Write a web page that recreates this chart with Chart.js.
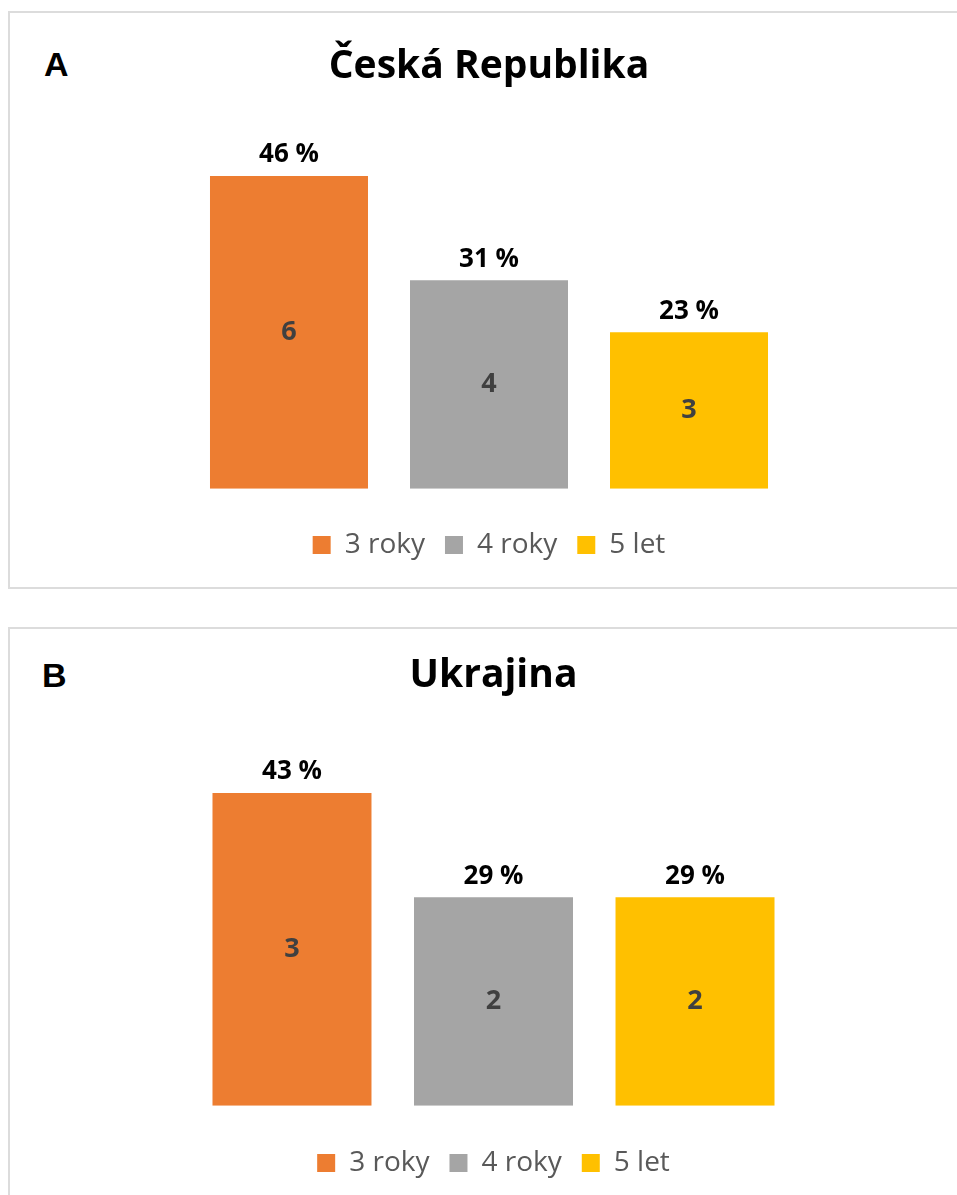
<!DOCTYPE html>
<html>
<head>
<meta charset="utf-8">
<script src="https://cdn.jsdelivr.net/npm/chart.js@4.4.0/dist/chart.umd.min.js"></script>
<style>
  html, body { margin: 0; padding: 0; background: #ffffff; }
  body { width: 957px; height: 1195px; position: relative; overflow: hidden; }
  .panel { position: absolute; border: 2px solid #dcdcdc; box-sizing: border-box; }
  .tag { position: absolute; font-family: "Liberation Sans", Arial, sans-serif; font-weight: bold; font-size: 34px; line-height: 34px; color: #000; }
  .wrap { position: absolute; left: 0; width: 957px; }
</style>
</head>
<body>
<div class="panel" style="left:8px; top:11px; width:1000px; height:578px;"></div>
<div class="panel" style="left:8px; top:627px; width:1000px; height:600px;"></div>
<div class="tag" style="left:44px; top:47px;">A</div>
<div class="tag" style="left:42px; top:658px;">B</div>
<div class="wrap" style="top:0; height:600px;"><canvas id="cA"></canvas></div>
<div class="wrap" style="top:600px; height:595px;"><canvas id="cB"></canvas></div>
<script>
// ---- data ----
const seriesNames = ['3 roky', '4 roky', '5 let'];
const seriesColors = ['#ED7D31', '#A5A5A5', '#FFC000'];
const titleA = 'Česká Republika';
const titleB = 'Ukrajina';
const countsA = [6, 4, 3];
const countsB = [3, 2, 2];
const yMaxA = 7;
const yMaxB = 3.5;

const FONT = '"Open Sans", "DejaVu Sans", sans-serif';

const labelPlugin = {
  id: 'barLabels',
  afterDatasetsDraw(chart) {
    const ctx = chart.ctx;
    const total = chart.data.datasets.reduce((s, d) => s + d.data[0], 0);
    ctx.save();
    ctx.textAlign = 'center';
    ctx.textBaseline = 'middle';
    chart.data.datasets.forEach((ds, i) => {
      const meta = chart.getDatasetMeta(i);
      const bar = meta.data[0];
      const v = ds.data[0];
      ctx.font = 'bold 26px ' + FONT;
      ctx.fillStyle = '#000000';
      ctx.fillText(Math.round(v / total * 100) + ' %', bar.x, bar.y - 21);
      ctx.font = 'bold 27px ' + FONT;
      ctx.fillStyle = '#404040';
      ctx.fillText(String(v), bar.x, (bar.y + bar.base) / 2);
    });
    ctx.restore();
  }
};

function makeChart(id, title, counts, yMax, cfg) {
  return new Chart(document.getElementById(id), {
    type: 'bar',
    data: {
      labels: [''],
      datasets: seriesNames.map((n, i) => ({
        label: n,
        data: [counts[i]],
        backgroundColor: seriesColors[i],
        borderWidth: 0,
        categoryPercentage: cfg.cp,
        barPercentage: cfg.bp
      }))
    },
    options: {
      responsive: true,
      maintainAspectRatio: false,
      animation: false,
      layout: { padding: { left: cfg.left, right: cfg.right, top: 0, bottom: cfg.bottom } },
      scales: {
        x: { display: false },
        y: { display: false, min: 0, max: yMax }
      },
      plugins: {
        tooltip: { enabled: false },
        title: {
          display: true,
          text: title,
          color: '#000000',
          font: { family: FONT, size: 39, weight: 'bold' },
          padding: { top: cfg.tTop, bottom: cfg.tBottom }
        },
        legend: {
          position: 'bottom',
          title: { display: true, text: '', font: { size: 1 }, padding: { top: cfg.lgTop, bottom: 0 } },
          labels: {
            boxWidth: 18,
            boxHeight: 18,
            padding: 20,
            color: '#595959',
            font: { family: FONT, size: 28 }
          }
        }
      }
    },
    plugins: [labelPlugin]
  });
}

makeChart('cA', titleA, countsA, yMaxA, { left: 29, right: 8, bottom: 31, cp: 0.6522, bp: 0.79, tTop: 43, tBottom: 34, lgTop: 21 });
makeChart('cB', titleB, countsB, yMaxB, { left: 33, right: 3, bottom: 8, cp: 0.6564, bp: 0.789, tTop: 52, tBottom: 42, lgTop: 22 });
</script>
</body>
</html>
